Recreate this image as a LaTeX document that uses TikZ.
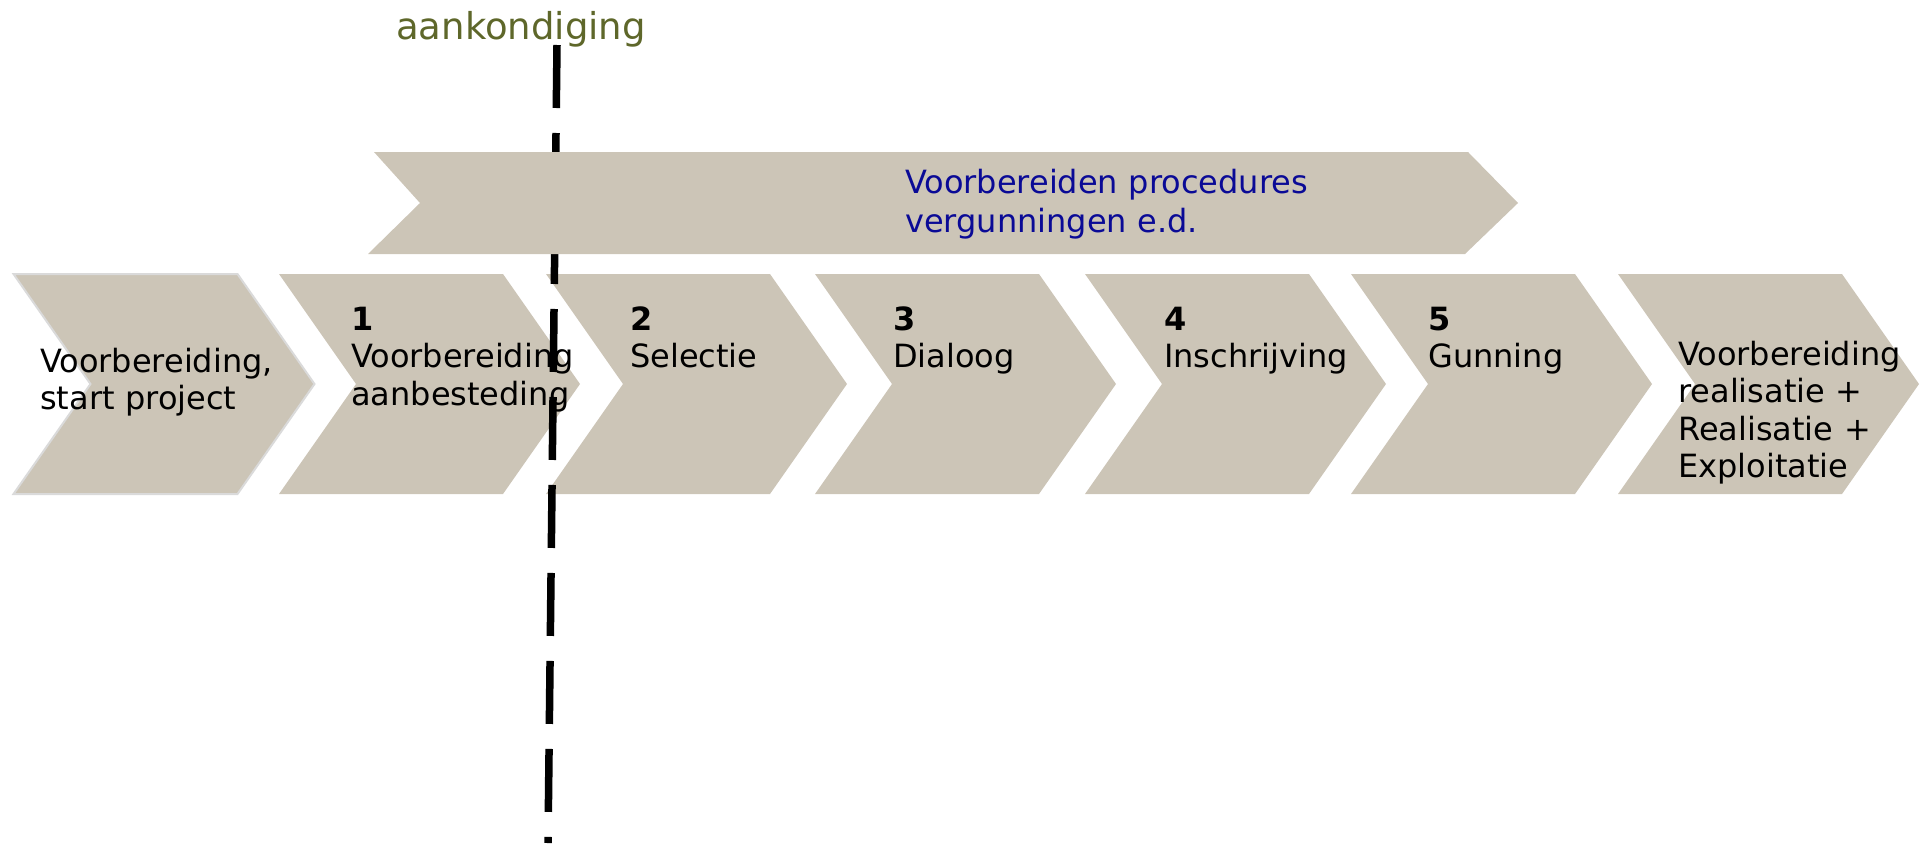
\documentclass[tikz,border=0pt]{standalone}
\usepackage{fontspec}
\setmainfont{DejaVu Sans}

\definecolor{chevtan}{RGB}{204,197,183}
\definecolor{chevedge}{RGB}{218,218,218}
\definecolor{bandblue}{RGB}{10,10,150}
\definecolor{aankgreen}{RGB}{94,103,42}

\tikzset{
  chev/.style={fill=chevtan},
  lbl/.style={anchor=base west, inner sep=0pt, align=left, text width=260pt,
    font=\fontsize{32}{37.5}\selectfont},
}

\begin{document}
\begin{tikzpicture}[x=1pt, y=-1pt]
        \useasboundingbox (0,0) rectangle (1921,846);

        % Chevrons
        \filldraw[chev, draw=chevedge, line width=2pt] (13.5,274) -- ++(224,0) -- ++(77,110)
            -- ++(-77,110) -- ++(-224,0) -- ++(77,-110) -- cycle;
        \foreach \l in {279,546,815,1085,1351,1618}
            \fill[chev] (\l,274) -- ++(224,0) -- ++(77,110) -- ++(-77,110)
                -- ++(-224,0) -- ++(77,-110) -- cycle;

        % Announcement line
        \coordinate (lijntop) at (557,45);
        \coordinate (lijnbot) at (548,843);
        \draw[line width=7.5pt, dash pattern=on 63pt off 25pt] (lijntop) -- (lijnbot);

        % Band
        \fill[chev] (374,152) -- (1468,152) -- (1518,203) -- (1465,254)
            -- (368,254) -- (420,203) -- cycle;

        % Nodes
        \node (aankondiging) [anchor=base west, inner sep=0pt, text=aankgreen,
            font=\fontsize{37}{44}\selectfont] at (396,39) {aankondiging};
        \node (vergunning) [lbl, text width=420pt, text=bandblue,
            font=\fontsize{32}{39}\selectfont] at (905,193)
            {Voorbereiden procedures\\vergunningen e.d.};
        \node (start) [lbl] at (40,372) {Voorbereiding,\\start project};
        \node (stap1) [lbl] at (351,330) {\textbf{1}\\Voorbereiding\\aanbesteding};
        \node (stap2) [lbl] at (630,330) {\textbf{2}\\Selectie};
        \node (stap3) [lbl] at (893,330) {\textbf{3}\\Dialoog};
        \node (stap4) [lbl] at (1164,330) {\textbf{4}\\Inschrijving};
        \node (stap5) [lbl] at (1428,330) {\textbf{5}\\Gunning};
        \node (realisatie) [lbl] at (1678,365)
            {Voorbereiding\\realisatie +\\Realisatie +\\Exploitatie};
    \end{tikzpicture}
\end{document}
